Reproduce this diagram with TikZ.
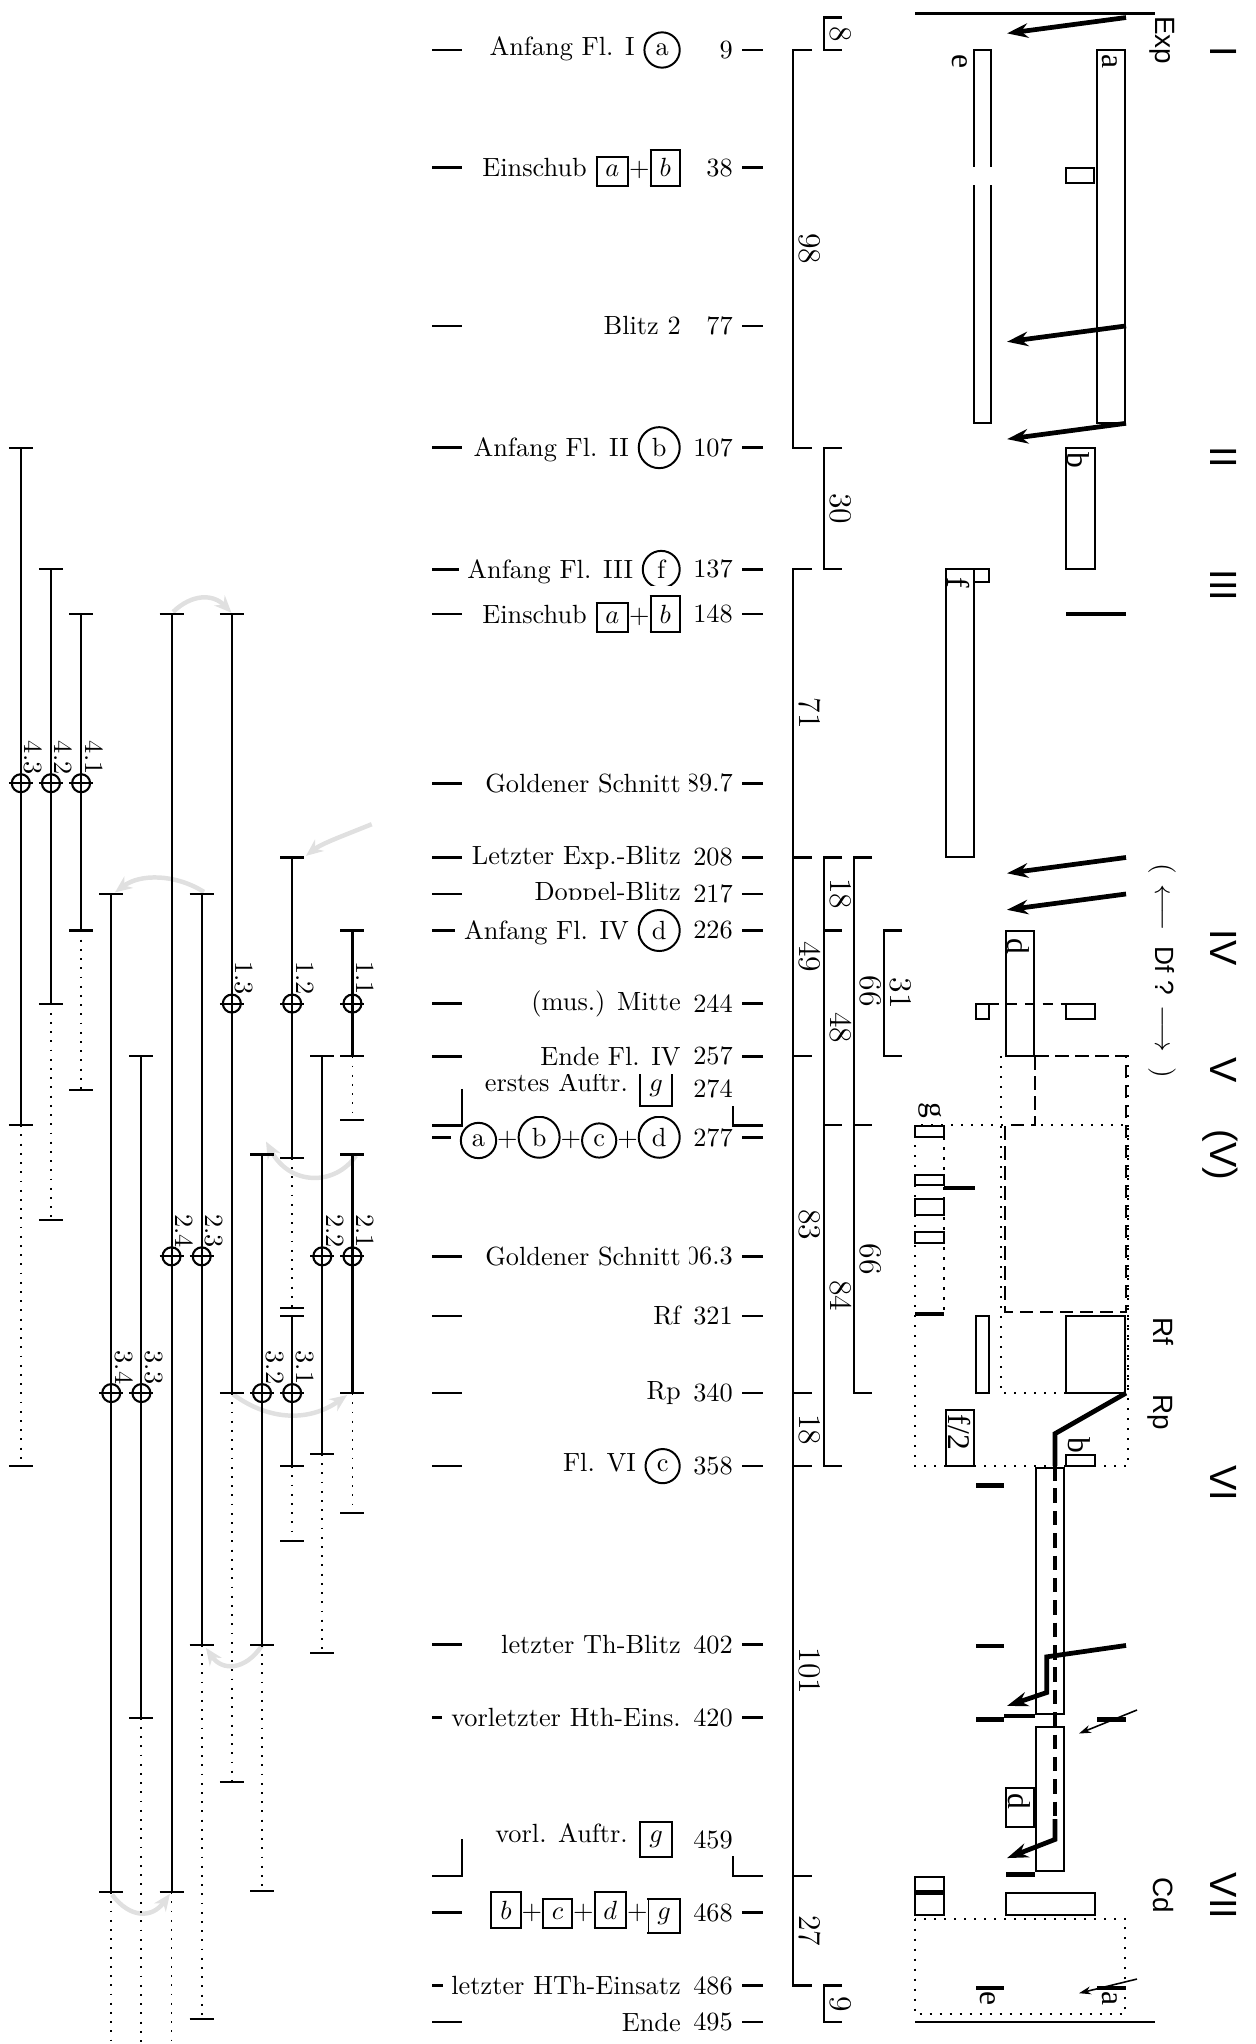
\documentclass[tikz,border=0pt]{standalone}
\usepackage{fontspec}
\newfontfamily\hel{Liberation Sans}
\newfontfamily\tim{Liberation Serif}
\usetikzlibrary{arrows.meta}
\newcommand\circled[1]{\tikz[baseline=(cc.base)]\node[draw,circle,fill=none,anchor=center,rotate=0,inner sep=2.35pt,line width=0.75pt](cc){#1};}
\newcommand\bx[1]{{\setlength\fboxrule{0.75pt}\setlength\fboxsep{3pt}\fbox{$#1$}}}
\tikzset{
 lbl/.style={anchor=east,fill=white,inner sep=3.33pt},
 tck/.style={line width=1pt},
 brk/.style={line width=0.8pt},
 brl/.style={rotate=-90,anchor=base,inner sep=0pt,font=\large},
 bxs/.style={line width=0.75pt},
 thk/.style={line width=1.8pt},
 thkarr/.style={line width=1.8pt,-{Stealth[length=8pt,width=5.5pt]}},
 thnarr/.style={line width=0.6pt,-{Stealth[length=4.5pt,width=3pt]}},
 dotl/.style={line width=0.8pt,dash pattern=on 0.8pt off 3pt},
 dashl/.style={line width=0.9pt,dash pattern=on 5pt off 2.6pt},
 sfl/.style={rotate=-90,anchor=base west,inner sep=0pt,font=\hel\fontsize{10.6}{12}\selectfont},
 rom/.style={rotate=-90,anchor=base west,inner sep=0pt,font=\hel\fontsize{14.4}{16}\selectfont},
 bl/.style={rotate=-90,anchor=base west,inner sep=0pt,font=\tim\fontsize{12}{14}\selectfont},
 vl/.style={line width=0.8pt},
 vd/.style={line width=0.7pt,dash pattern=on 0.7pt off 2.8pt},
 clab/.style={rotate=-90,anchor=base east,inner sep=0pt},
 garr/.style={line width=1.7pt,black!12,-{Stealth[length=6.5pt,width=5.5pt]}},
}
\newcommand\vseg[3]{\draw[vl] ({#1-12},#2) -- ({#1+12},#2) (#1,#2) -- (#1,#3) ({#1-12},#3) -- ({#1+12},#3);}
\newcommand\vdot[3]{\draw[vd] (#1,#2) -- (#1,#3); \draw[vl] ({#1-12},#3) -- ({#1+12},#3);}
\newcommand\vdotopen[3]{\draw[vd] (#1,#2) -- (#1,#3);}
\newcommand\crs[4]{\draw[vl] (#1,#2) circle[radius=3.42pt]; \draw[vl] ({#1-12},#2) -- ({#1+12},#2);
 \node[clab] (#4) at ({#1+4},{#2-2}) {#3};}
\begin{document}
\begin{tikzpicture}[x=0.38pt,y=-1.54189pt]
\useasboundingbox (0,-3.322) rectangle (1255,500.42);

% ===== gray arrows =====
\draw[garr] (173,147.5) .. controls (192,143) and (213,143) .. (231.5,147.7);
\draw[garr] (204,216.5) .. controls (175,212) and (140,212) .. (115,216.6);
\draw[garr] (371.7,199.8) .. controls (345,202.5) and (322,204.5) .. (306,207.6);
\draw[garr] (356,281.5) .. controls (335,289) and (290,289) .. (266,278);
\draw[garr] (233,340.3) .. controls (270,347) and (310,347) .. (347,340.5);
\draw[garr] (262,402.2) .. controls (245,408.5) and (222,408.5) .. (206,402.8);
\draw[garr] (112,463.6) .. controls (130,469.5) and (152,469.5) .. (170,463.4);

% ===== left vertical lines =====
\vseg{20.8}{107}{274} \vdot{20.8}{274}{358} \crs{20.8}{189.7}{4.3}{c43}
\vseg{50.95}{137}{244} \vdot{50.95}{244}{297.3} \crs{50.95}{189.7}{4.2}{c42}
\vseg{81.1}{148}{226} \vdot{81.1}{226}{265.2} \crs{81.1}{189.7}{4.1}{c41}
\vseg{111.25}{217}{463} \vdotopen{111.25}{463}{500.4} \crs{111.25}{340}{3.4}{c34}
\vseg{141.4}{257}{420} \vdotopen{141.4}{420}{500.4} \crs{141.4}{340}{3.3}{c33}
\vseg{171.55}{148}{463} \vdotopen{171.55}{463}{500.4} \crs{171.55}{306.3}{2.4}{c24}
\vseg{201.7}{217}{402} \vdot{201.7}{402}{494.2} \crs{201.7}{306.3}{2.3}{c23}
\vseg{231.85}{148}{340} \vdot{231.85}{340}{435.9} \crs{231.85}{244}{1.3}{c13}
\vseg{262}{281.2}{402} \vdot{262}{402}{462.7} \crs{262}{340}{3.2}{c32}
\vseg{292.15}{208}{282} \vdot{292.15}{282}{319} \vseg{292.15}{321}{358} \vdot{292.15}{358}{376.4}
\crs{292.15}{244}{1.2}{c12} \crs{292.15}{340}{3.1}{c31}
\vseg{322.3}{257}{355} \vdot{322.3}{355}{404} \crs{322.3}{306.3}{2.2}{c22}
\vseg{352.45}{226}{257} \vdot{352.45}{257}{272.7} \vseg{352.45}{281.2}{340} \vdot{352.45}{340}{369.5}
\crs{352.45}{244}{1.1}{c11} \crs{352.45}{306.3}{2.1}{c21}

% ===== centre rows: ticks =====
\foreach \b in {9,38,77,107,137,148,189.7,208,217,226,244,257,277,306.3,321,340,358,402,420,468,486,495}{
 \draw[tck] (432,\b) -- (462,\b); \draw[tck] (733,\b) -- (763,\b);}

% ===== centre rows: texts =====
\node[lbl] (n9) at (742,9) {9};
\node[lbl] (l9) at (690,9) {Anfang Fl. I \circled{a}};
\node[lbl] (n38) at (742,38) {38};
\node[lbl] (l38) at (690,38) {Einschub \bx{a}+\bx{b}};
\node[lbl] (n77) at (742,77) {77};
\node[lbl] (l77) at (690,77) {Blitz 2};
\node[lbl] (n107) at (742,107) {107};
\node[lbl] (l107) at (690,107) {Anfang Fl. II \circled{b}};
\node[lbl] (n137) at (742,137) {137};
\node[lbl] (l137) at (690,137) {Anfang Fl. III \circled{f}};
\node[lbl] (n148) at (742,148) {148};
\node[lbl] (l148) at (690,148) {Einschub \bx{a}+\bx{b}};
\node[lbl] (n189) at (742,189.7) {189.7};
\node[lbl] (l189) at (690,189.7) {Goldener Schnitt};
\node[lbl] (n208) at (742,208) {208};
\node[lbl] (l208) at (690,208) {Letzter Exp.-Blitz};
\node[lbl] (n217) at (742,217) {217};
\node[lbl] (l217) at (690,217) {Doppel-Blitz};
\node[lbl] (n226) at (742,226) {226};
\node[lbl] (l226) at (690,226) {Anfang Fl. IV \circled{d}};
\node[lbl] (n244) at (742,244) {244};
\node[lbl] (l244) at (690,244) {(mus.) Mitte};
\node[lbl] (n277) at (742,277) {277};
\node[lbl] (l277) at (690,277) {\circled{a}+\circled{b}+\circled{c}+\circled{d}};
\node[lbl] (n274) at (742,265) {274};
\node[lbl] (l274) at (682,265) {erstes Auftr. \bx{g}};
\node[lbl] (n257) at (742,257) {257};
\node[lbl] (l257) at (690,257) {Ende Fl. IV};
\node[lbl] (n306) at (742,306.3) {306.3};
\node[lbl] (l306) at (690,306.3) {Goldener Schnitt};
\node[lbl] (n321) at (742,321) {321};
\node[lbl] (l321) at (690,321) {Rf};
\node[lbl] (n340) at (742,340) {340};
\node[lbl] (l340) at (690,340) {Rp};
\node[lbl] (n358) at (742,358) {358};
\node[lbl] (l358) at (690,358) {Fl. VI \circled{c}};
\node[lbl] (n402) at (742,402) {402};
\node[lbl] (l402) at (690,402) {letzter Th-Blitz};
\node[lbl] (n420) at (742,420) {420};
\node[lbl] (l420) at (690,420) {vorletzter Hth-Eins.};
\node[lbl] (n459) at (742,450) {459};
\node[lbl] (l459) at (682,450) {vorl. Auftr. \bx{g}};
\node[lbl] (n468) at (742,468) {468};
\node[lbl] (l468) at (690,468) {\bx{b}+\bx{c}+\bx{d}+\bx{g}};
\node[lbl] (n486) at (742,486) {486};
\node[lbl] (l486) at (690,486) {letzter HTh-Einsatz};
\node[lbl] (n495) at (742,495) {495};
\node[lbl] (l495) at (690,495) {Ende};

% corner brackets of the two "Auftr." rows
\draw[tck] (462,265) -- (462,274) -- (432,274);
\draw[tck] (733,269.3) -- (733,274) -- (763,274);
\draw[tck] (462,450) -- (462,459) -- (432,459);
\draw[tck] (733,454.1) -- (733,459) -- (763,459);

% ===== bracket columns =====
\draw[brk] (812,9) -- (793,9) -- (793,107) -- (812,107);
\draw[brk] (812,137) -- (793,137) -- (793,486) -- (812,486);
\foreach \b in {208,257,340,358,459} \draw[brk] (793,\b) -- (812,\b);
\node[brl] (a98) at (799,58) {98};
\node[brl] (a71) at (799,172.5) {71};
\node[brl] (a49) at (799,232.5) {49};
\node[brl] (a83) at (799,298.5) {83};
\node[brl] (a18) at (799,349) {18};
\node[brl] (a101) at (799,408.5) {101};
\node[brl] (a27) at (799,472.5) {27};
\draw[brk] (842,1) -- (824,1) -- (824,9) -- (842,9);
\draw[brk] (842,107) -- (824,107) -- (824,137) -- (842,137);
\draw[brk] (842,208) -- (824,208) -- (824,358) -- (842,358);
\draw[brk] (824,226) -- (842,226) (824,274) -- (842,274);
\draw[brk] (842,486) -- (824,486) -- (824,495) -- (842,495);
\node[brl] (b8) at (830,5) {8};
\node[brl] (b30) at (830,122) {30};
\node[brl] (b18) at (830,217) {18};
\node[brl] (b48) at (830,250) {48};
\node[brl] (b84) at (830,316) {84};
\node[brl] (b9) at (830,490.5) {9};
\draw[brk] (872,208) -- (854,208) -- (854,340) -- (872,340) (854,274) -- (872,274);
\node[brl] (c66a) at (860,241) {66};
\node[brl] (c66b) at (860,307) {66};
\draw[brk] (902,226) -- (884,226) -- (884,257) -- (902,257);
\node[brl] (d31) at (890,241.5) {31};

% ===== right region =====
\draw[line width=1pt] (915,0) -- (1155,0);
\draw[line width=1pt] (915,495) -- (1155,495);
\node[sfl] (exp) at (1155,0.5) {Exp};
% roman numerals
\node[rom] (r1) at (1210,8.1) {I};
\node[rom] (r2) at (1210,106.7) {II};
\node[rom] (r3) at (1210,137) {III};
\node[rom] (r4) at (1210,225.7) {IV};
\node[rom] (r5) at (1210,257.1) {V};
\node[rom] (r5b) at (1210,274.9) {(V)};
\node[rom] (r6) at (1210,357.6) {VI};
\node[rom] (r7) at (1210,458.1) {VII};
% section I
\draw[bxs] (1097,9) rectangle (1125,101);
\node[bl] (la) at (1102,10) {a};
\draw[bxs] (1066,38) rectangle (1094,41.8);
\draw[bxs] (974,37.8) -- (974,9) -- (991,9) -- (991,37.8);
\draw[bxs] (974,42.3) -- (974,101) -- (991,101) -- (991,42.3);
\node[bl] (le) at (952,10) {e};
\draw[thkarr] (1126,1) -- (1007,4.9);
\draw[thkarr] (1126,77) -- (1007,80.9);
\draw[thkarr] (1126,101) -- (1007,104.9);
% II, III
\draw[bxs] (1066,107) rectangle (1095,137);
\node[bl] (lb) at (1067,108.1) {b};
\draw[bxs] (946,137) rectangle (974,208);
\draw[bxs] (974,137) rectangle (989,140);
\node[bl] (lf) at (947.5,138.9) {f};
\draw[thk] (1066,148) -- (1126,148);
% IV
\draw[thkarr] (1126,208) -- (1007,211.9);
\draw[thkarr] (1126,217) -- (1007,220.9);
\node[rotate=-90,anchor=base,inner sep=0pt,font=\fontsize{10.5}{12}\selectfont] (df) at (1155,236)
 {(\hspace{4pt}$\longleftarrow$\hspace{6pt}{\hel\fontsize{10}{12}\selectfont Df ?}\hspace{4pt}$\longrightarrow$\hspace{6pt})};
\draw[bxs] (1006,226) rectangle (1034,257);
\node[bl] (ld) at (1007,227.8) {d};
\draw[bxs,dash pattern=on 3.8pt off 3pt] (989,244) -- (1066,244);
\draw[bxs] (976,244.2) rectangle (989,247.8);
\draw[bxs] (1066,244.2) rectangle (1095,247.8);
% V
\draw[dotl] (1001,257) rectangle (1128,340);
\draw[dotl] (915,274) rectangle (1128,358);
\draw[dashl] (1035,257) -- (1126,257) -- (1126,320) -- (1005,320) -- (1005,274) -- (1035,274) -- cycle;
\node[bl] (lg) at (925,268.3) {g};
\draw[bxs] (915,274.2) rectangle (944,277);
\draw[bxs] (915,286.3) rectangle (944,288.8);
\draw[bxs] (915,292.2) rectangle (944,296);
\draw[bxs] (915,300.3) rectangle (944,303);
\draw[dotl] (944,277) -- (944,320.5);
\draw[line width=1.4pt] (944,289.5) -- (975,289.5);
\draw[line width=1.4pt] (915,320.5) -- (944,320.5);
\draw[bxs] (976,321) rectangle (989,340);
\draw[bxs] (1066,321) rectangle (1125,340);
\node[sfl] (rf) at (1153,321.2) {Rf};
\node[sfl] (rp) at (1153,340.2) {Rp};
% VI
\draw[bxs] (946,344.2) rectangle (974,358);
\node[bl] (lf2) at (948,345.2) {f/2};
\draw[bxs] (1066,355.3) rectangle (1095,358);
\node[bl] (lb2) at (1068,350.8) {b};
\draw[bxs] (1036,358.5) rectangle (1064,419);
\draw[bxs] (1036,422.3) rectangle (1064,457.8);
\draw[thk] (1126,340) -- (1055,350) -- (1055,358);
\draw[thk,dash pattern=on 5.5pt off 3pt] (1055,358) -- (1055,445);
\draw[thkarr] (1055,445) -- (1055,450) -- (1007,454.6);
\draw[thk] (976,362.7) -- (1004,362.7);
\draw[thk] (976,402.3) -- (1004,402.3);
\draw[thkarr] (1126,402.2) -- (1046.7,405) -- (1046.7,413.8) -- (1007,417.1);
\draw[thk] (976,420.5) -- (1004,420.5);
\draw[thk] (1004,419.6) -- (1035,419.6);
\draw[thk] (1097,420.4) -- (1126,420.4);
\draw[thnarr] (1137,418.1) -- (1079,423.9);
\draw[bxs] (1006,437.4) rectangle (1034,447);
\node[bl] (ld2) at (1008,438.6) {d};
\draw[thk] (1006,458.6) -- (1035,458.6);
% VII
\draw[bxs] (915,459.3) rectangle (944,468.6);
\draw[thk] (915,463) -- (944,463);
\draw[bxs] (1006,463.2) rectangle (1095,468.6);
\node[sfl] (cd) at (1153,459.2) {Cd};
\draw[dotl] (915,469.5) rectangle (1125,493);
\draw[thk] (976,486.6) -- (1004,486.6);
\node[bl] (le2) at (980,487.4) {e};
\draw[thk] (1097,486.6) -- (1126,486.6);
\node[bl] (la2) at (1102,487.4) {a};
\draw[thnarr] (1137,484.4) -- (1079,487.9);
\end{tikzpicture}
\end{document}
